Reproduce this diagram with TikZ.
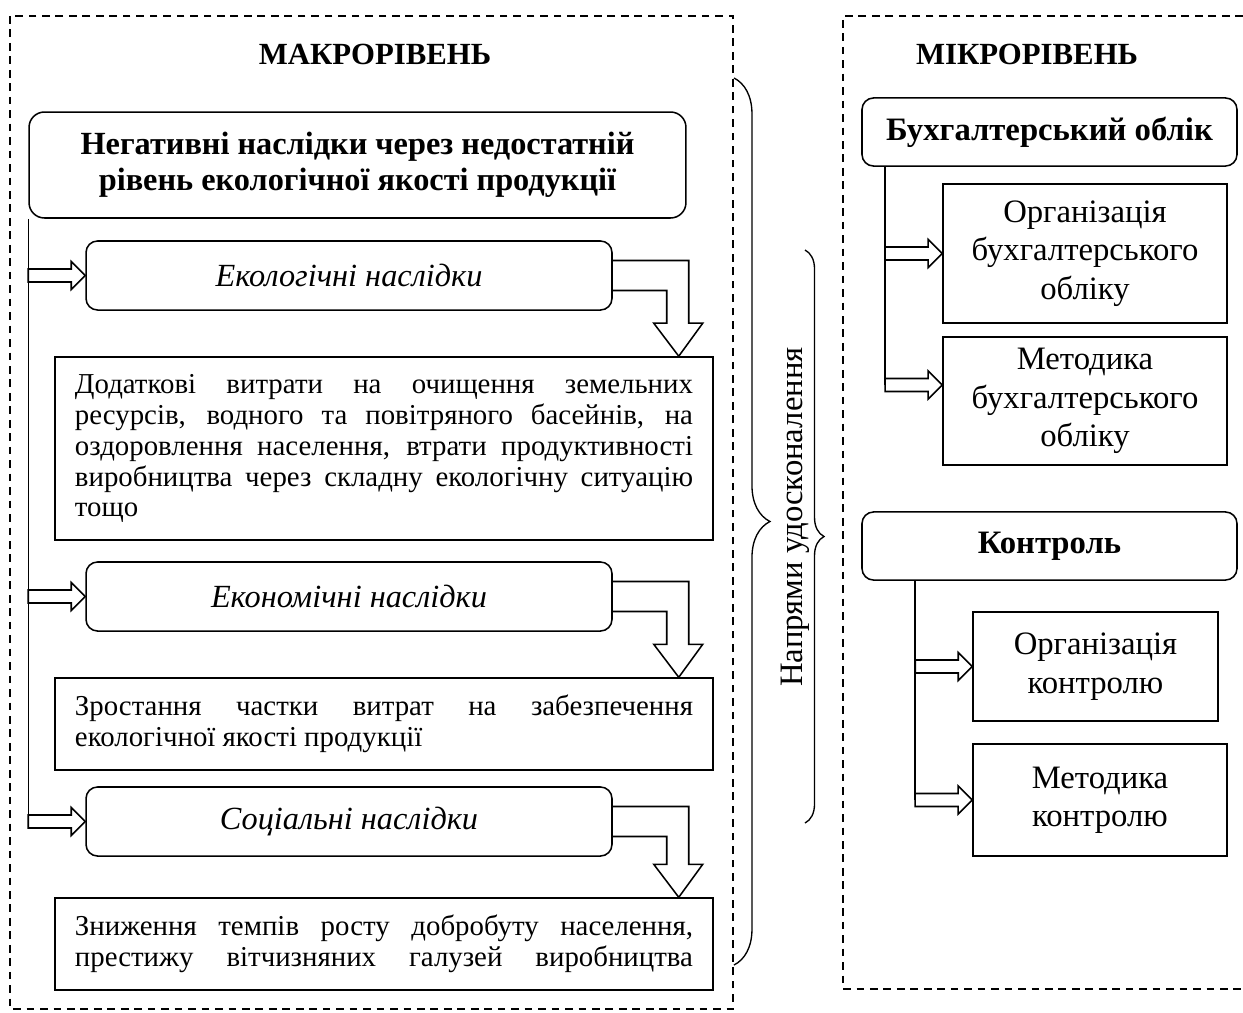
\documentclass[tikz,border=0pt]{standalone}
\usepackage{fontspec}
\setmainfont{Liberation Serif}
\usetikzlibrary{calc,decorations.pathreplacing}
\hyphenpenalty=10000
\exhyphenpenalty=10000

\begin{document}
\begin{tikzpicture}[x=0.52pt,y=-0.52pt,line width=0.8pt,
  levelframe/.style={dash pattern=on 4pt off 3pt,line width=0.7pt},
  heading/.style={font=\fontsize{16}{19}\selectfont\bfseries},
  headbox/.style={draw,rounded corners=8pt,align=center,inner sep=0pt,font=\fontsize{16.8}{18.7}\selectfont\bfseries},
  conseq/.style={draw,rounded corners=6pt,inner sep=0pt,minimum width=273.5pt,minimum height=35.9pt,font=\fontsize{16.8}{18.4}\selectfont\itshape},
  effect/.style={draw,inner xsep=10.4pt,inner ysep=0pt,text width=321.4pt,align=justify,font=\fontsize{15}{16.1}\selectfont},
  levelbox/.style={draw,rounded corners=6pt,inner sep=0pt,minimum width=195pt,minimum height=35.4pt,font=\fontsize{17}{20}\selectfont\bfseries},
  itembox/.style={draw,inner sep=0pt,align=center,font=\fontsize{17}{20}\selectfont},
  hollow/.style={fill=white,line width=0.8pt},
  bracket/.style={line width=0.7pt,decorate}]

\useasboundingbox (0,0) rectangle (1243,1012);

% frames of the two levels
\draw[levelframe] (10,16) rectangle (733,1009);
\draw[levelframe] (1243,16) -- (843,16) -- (843,989) -- (1243,989);

\node[heading] (macro) at (375,54) {МАКРОРІВЕНЬ};
\node[heading] (micro) at (1027,54) {МІКРОРІВЕНЬ};

% macro level
\node[headbox,minimum width=341.6pt,minimum height=55.1pt] (neg) at (357.5,165) {Негативні наслідки через недостатній\\рівень екологічної якості продукції};

\node[conseq] (eco) at (349,275.5) {Екологічні наслідки};
\node[conseq] (econ) at (349,596.5) {Економічні наслідки};
\node[conseq] (soc) at (349,821.5) {Соціальні наслідки};

\node[effect,minimum height=95.2pt] (dod) at (384,448.5) {Додаткові витрати на очищення земельних\linebreak ресурсів, водного та повітряного басейнів, на\linebreak оздоровлення населення, втрати продуктивності\linebreak виробництва через складну екологічну ситуацію\linebreak тощо};
\node[effect,minimum height=47.8pt] (zrost) at (384,724) {Зростання частки витрат на забезпечення\linebreak екологічної якості продукції};
\node[effect,minimum height=47.8pt] (znyzh) at (384,944) {\parfillskip=0pt Зниження темпів росту добробуту населення,\linebreak престижу вітчизняних галузей виробництва\par};

% micro level
\node[levelbox] (buh) at (1049.5,132) {Бухгалтерський облік};
\node[itembox,minimum width=147.7pt,minimum height=72.3pt] (orgb) at (1085,253.5) {Організація\\бухгалтерського\\обліку};
\node[itembox,minimum width=147.7pt,minimum height=66.6pt] (metb) at (1085,401) {Методика\\бухгалтерського\\обліку};
\node[levelbox] (kontr) at (1049.5,546) {Контроль};
\node[itembox,minimum width=127.4pt,minimum height=56.7pt] (orgk) at (1095.5,666.5) {Організація\\контролю};
\node[itembox,minimum width=132.1pt,minimum height=58.2pt] (metk) at (1100,800) {Методика\\контролю};

\node[rotate=90,font=\fontsize{17}{20}\selectfont] (napr) at (795,517) {Напрями удосконалення};

\draw[bracket,decoration={brace,amplitude=18.7pt}] (734,78) -- (734,965);
\draw[bracket,decoration={brace,amplitude=9.9pt}] (805,250) -- (805,823);

% vertical lines
\coordinate (tipmb) at (metb.west |- 0,385);
\coordinate (vb) at ($(tipmb)+(-57,0)$);
\coordinate (vk) at ($(metk.west)+(-57,0)$);
\draw (neg.south west) -- (neg.west |- soc.west);
\draw (vb) -- (vb |- buh.south);
\draw (vk) -- (vk |- kontr.south);

% hollow arrows
\foreach \t in {eco.west,econ.west,soc.west,orgb.west,tipmb,orgk.west,metk.west}
  \draw[hollow] (\t) -- ++(-14,-14) -- ++(0,7.5) -- ++(-43,0) -- ++(0,13) -- ++(43,0) -- ++(0,7.5) -- cycle;

\foreach \a/\b in {eco/dod,econ/zrost,soc/znyzh}
  \draw ($(\a.east)+(0,-15)$) -| ($(\a.east |- \b.north)+(76,-33)$) -- ++(14,0) -- ($(\a.east |- \b.north)+(66,0)$) -- ++(-25,-33) -- ++(13,0) |- ($(\a.east)+(0,15)$);
\end{tikzpicture}
\end{document}
